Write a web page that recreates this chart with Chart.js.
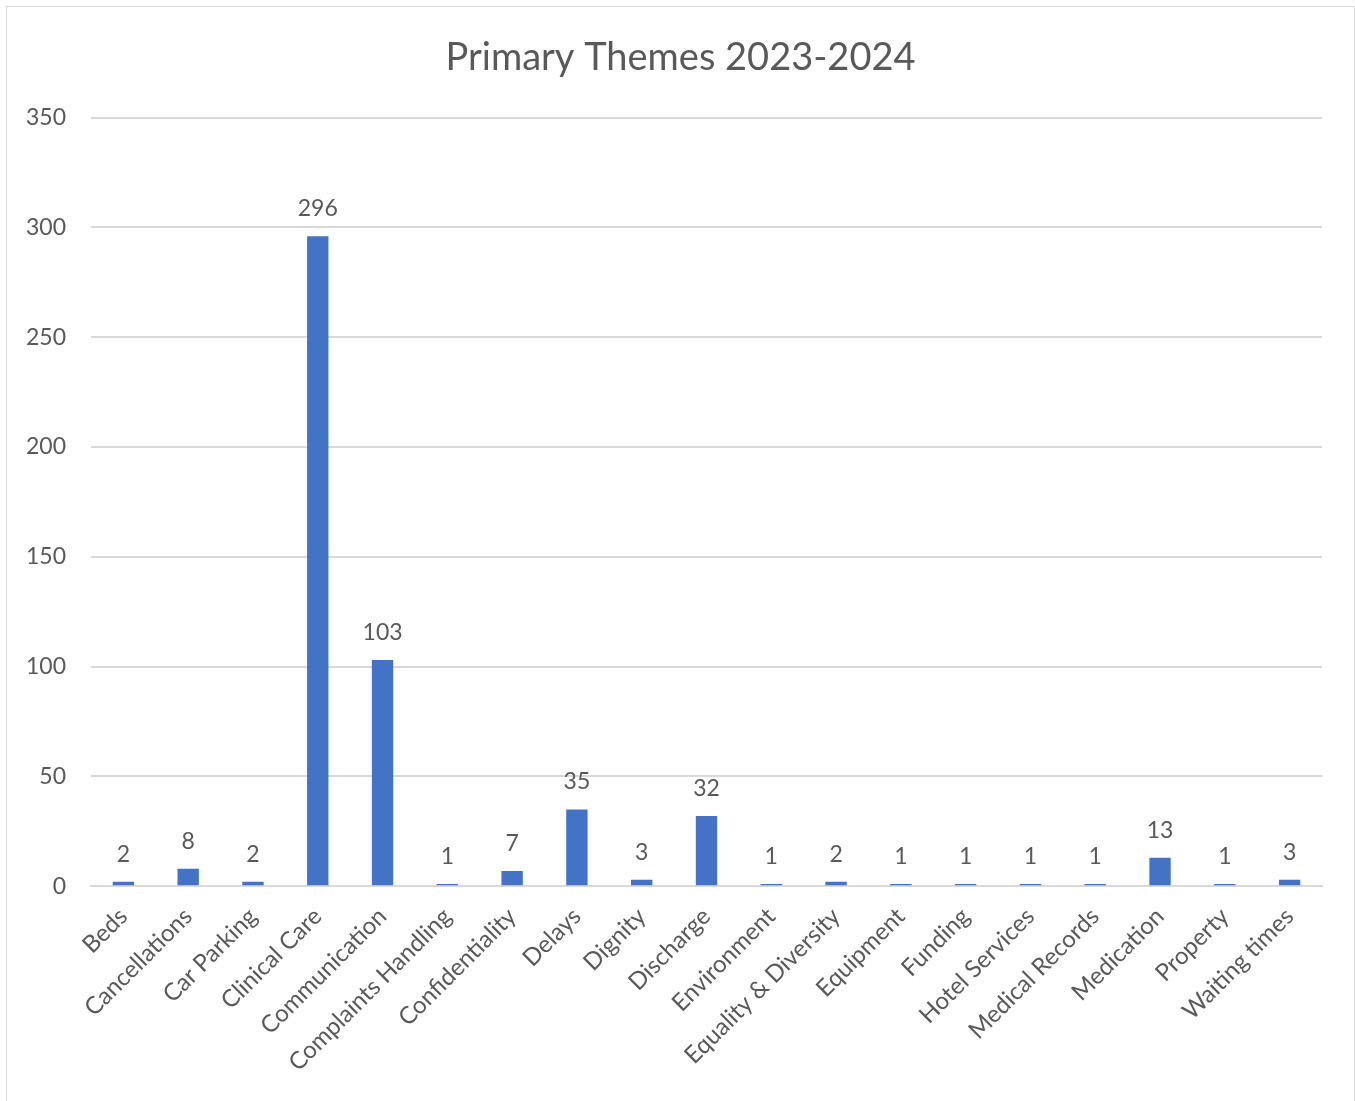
<!DOCTYPE html>
<html>
<head>
<meta charset="utf-8">
<script src="https://cdn.jsdelivr.net/npm/chart.js@4/dist/chart.umd.min.js"></script>
<style>
  body { margin: 0; background: #fff; }
  #wrap { position: absolute; left: 6px; top: 6px; width: 1347px; height: 1100px; border: 1px solid #d9d9d9; }
</style>
</head>
<body>
<div id="wrap"><canvas id="barChart"></canvas></div>
<script>
// primary themes 2023-2024
const themes = ['Beds', 'Cancellations', 'Car Parking', 'Clinical Care', 'Communication',
    'Complaints Handling', 'Confidentiality', 'Delays', 'Dignity', 'Discharge', 'Environment',
    'Equality & Diversity', 'Equipment', 'Funding', 'Hotel Services', 'Medical Records',
    'Medication', 'Property', 'Waiting times'];
const themeCounts = [2, 8, 2, 296, 103, 1, 7, 35, 3, 32, 1, 2, 1, 1, 1, 1, 13, 1, 3];
const yTicks = [0, 50, 100, 150, 200, 250, 300, 350];

const textColor = '#595959';
const fontName = 'Lato, "Open Sans", sans-serif';

// value labels above each bar
const valueLabels = {
    id: 'valueLabels',
    afterDatasetsDraw(chart) {
        const ctx = chart.ctx;
        const meta = chart.getDatasetMeta(0);
        ctx.save();
        ctx.fillStyle = textColor;
        ctx.font = '23px ' + fontName;
        ctx.textAlign = 'center';
        ctx.textBaseline = 'bottom';
        meta.data.forEach((bar, i) => {
            ctx.fillText(themeCounts[i], bar.x, bar.y - 16);
        });
        ctx.restore();
    }
};

const ctxBar = document.getElementById('barChart');

if (ctxBar) {
    new Chart(ctxBar, {
        type: 'bar',
        data: {
            labels: themes,
            datasets: [{
                label: 'Primary Themes',
                data: themeCounts,
                backgroundColor: '#4472C4',
                barPercentage: 0.33,
                categoryPercentage: 1
            }]
        },
        options: {
            responsive: true,
            maintainAspectRatio: false,
            animation: false,
            layout: { padding: { left: 13, right: 13, top: 10, bottom: 22 } },
            plugins: {
                legend: { display: false },
                tooltip: { enabled: false },
                title: {
                    display: true,
                    text: 'Primary Themes 2023-2024',
                    color: textColor,
                    font: { family: fontName, size: 38, weight: 'normal' },
                    padding: { top: 18, bottom: 37 }
                }
            },
            scales: {
                x: {
                    grid: { display: false },
                    border: { color: '#d9d9d9', width: 2 },
                    ticks: {
                        color: textColor,
                        font: { family: fontName, size: 24 },
                        minRotation: 45,
                        maxRotation: 45,
                        autoSkip: false,
                        padding: 8
                    }
                },
                y: {
                    min: 0,
                    max: 350,
                    afterBuildTicks(axis) {
                        axis.ticks = yTicks.map(v => ({ value: v }));
                    },
                    afterFit(axis) {
                        axis.width = 71;
                    },
                    grid: { color: '#d9d9d9', lineWidth: 2, drawTicks: false },
                    border: { display: false },
                    ticks: {
                        color: textColor,
                        font: { family: fontName, size: 23 },
                        padding: 25
                    }
                },
                // empty right axis, only keeps a gap on the right
                yRight: {
                    position: 'right',
                    min: 0,
                    max: 350,
                    grid: { display: false },
                    border: { display: false },
                    ticks: { display: false },
                    afterFit(axis) {
                        axis.width = 19;
                    }
                }
            }
        },
        plugins: [valueLabels]
    });
}
</script>
</body>
</html>
